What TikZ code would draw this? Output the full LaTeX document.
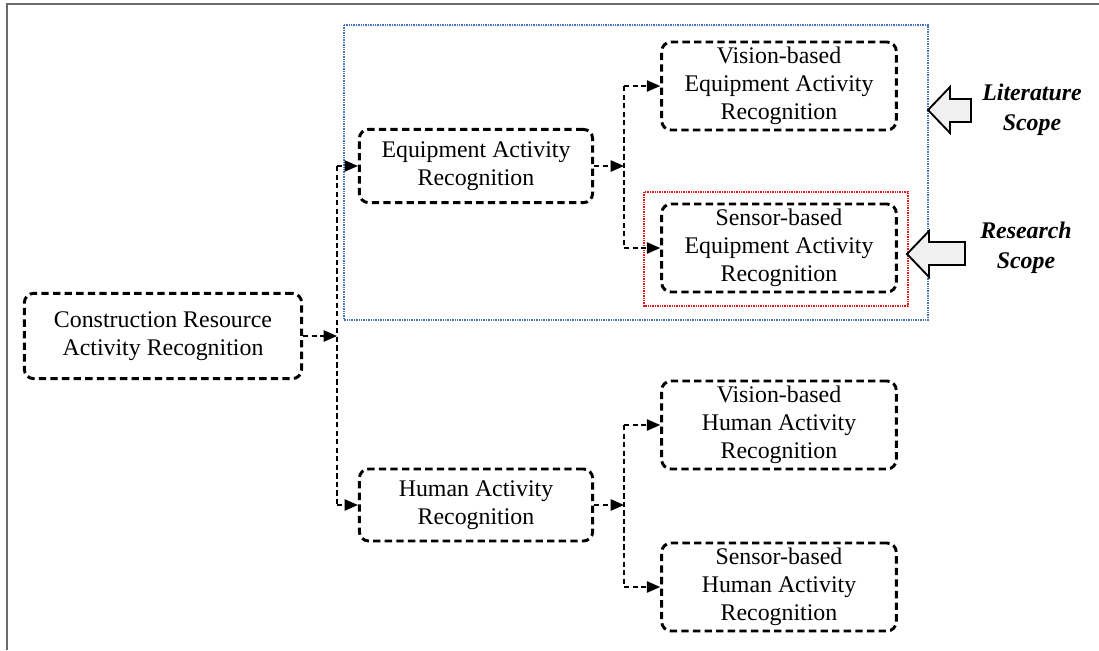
\documentclass[tikz,border=0pt]{standalone}
\usepackage{fontspec}
\setmainfont{Liberation Serif}
\usetikzlibrary{arrows.meta}
\definecolor{scopeblue}{HTML}{4472C4}
\definecolor{scopered}{HTML}{E8161B}
\definecolor{framegray}{HTML}{6A6A6A}
\definecolor{blockfill}{HTML}{F0F0F0}
\tikzset{
  box/.style={draw=black, line width=2.2pt, dash pattern=on 5.5pt off 3.2pt,
    rounded corners=7pt, align=center, inner sep=0pt,
    font=\fontsize{17.9}{21}\selectfont},
  conn/.style={draw=black, line width=1.1pt, dash pattern=on 4pt off 2.4pt},
  tip/.style={conn, -{Triangle[length=10pt,width=8.5pt]}},
  scopebox/.style={line width=0.8pt, dash pattern=on 1pt off 0.8pt},
  blockarrow/.style={draw=black, fill=blockfill, line width=1.4pt, line join=miter},
  scopelabel/.style={align=center, font=\fontsize{17.9}{22.5}\selectfont\bfseries\itshape}
}
\begin{document}
\begin{tikzpicture}[x=0.75pt,y=-0.75pt]
\useasboundingbox (0,0) rectangle (1099,650);

% page frame
\draw[framegray, line width=1.5pt] (6.5,650) -- (6.5,3.5) -- (1099,3.5);

% scope frames
\draw[scopebox, scopeblue] (344,25) rectangle (928,320);
\draw[scopebox, scopered] (644,192) rectangle (908,306);

% activity boxes
\node[box, minimum width=208pt, minimum height=64pt] (cra) at (163,336)
  {Construction Resource\\Activity Recognition};
\node[box, minimum width=175pt, minimum height=55pt] (ear) at (476,166)
  {Equipment Activity\\Recognition};
\node[box, minimum width=175pt, minimum height=54pt] (har) at (476,505)
  {Human Activity\\Recognition};
\node[box, minimum width=176pt, minimum height=66pt] (vea) at (779,86)
  {Vision-based\\Equipment Activity\\Recognition};
\node[box, minimum width=176pt, minimum height=66pt] (sea) at (779,248)
  {Sensor-based\\Equipment Activity\\Recognition};
\node[box, minimum width=176pt, minimum height=66pt] (vha) at (779,425)
  {Vision-based\\Human Activity\\Recognition};
\node[box, minimum width=176pt, minimum height=66pt] (sha) at (779,587)
  {Sensor-based\\Human Activity\\Recognition};

% branching connectors
\coordinate (b1) at (337,336);
\coordinate (b2) at (624,166);
\coordinate (b3) at (624,505);

\draw[tip] (cra.east) -- (b1);
\draw[conn] (b1 |- ear.west) -- (b1 |- har.west);
\draw[tip] (b1 |- ear.west) -- (ear.west);
\draw[tip] (b1 |- har.west) -- (har.west);

\draw[tip] (ear.east) -- (b2);
\draw[conn] (b2 |- vea.west) -- (b2 |- sea.west);
\draw[tip] (b2 |- vea.west) -- (vea.west);
\draw[tip] (b2 |- sea.west) -- (sea.west);

\draw[tip] (har.east) -- (b3);
\draw[conn] (b3 |- vha.west) -- (b3 |- sha.west);
\draw[tip] (b3 |- vha.west) -- (vha.west);
\draw[tip] (b3 |- sha.west) -- (sha.west);

% scope pointers
\draw[blockarrow] (928,110) -- (950,87) -- (950,99) -- (971,99) -- (971,122)
  -- (950,122) -- (950,133) -- cycle;
\draw[blockarrow] (907,254) -- (929,231) -- (929,242) -- (965,242) -- (965,265)
  -- (929,265) -- (929,277) -- cycle;

\node[scopelabel] (lit) at (1032,110) {Literature\\Scope};
\node[scopelabel] (res) at (1026,248) {Research\\Scope};
\end{tikzpicture}
\end{document}
